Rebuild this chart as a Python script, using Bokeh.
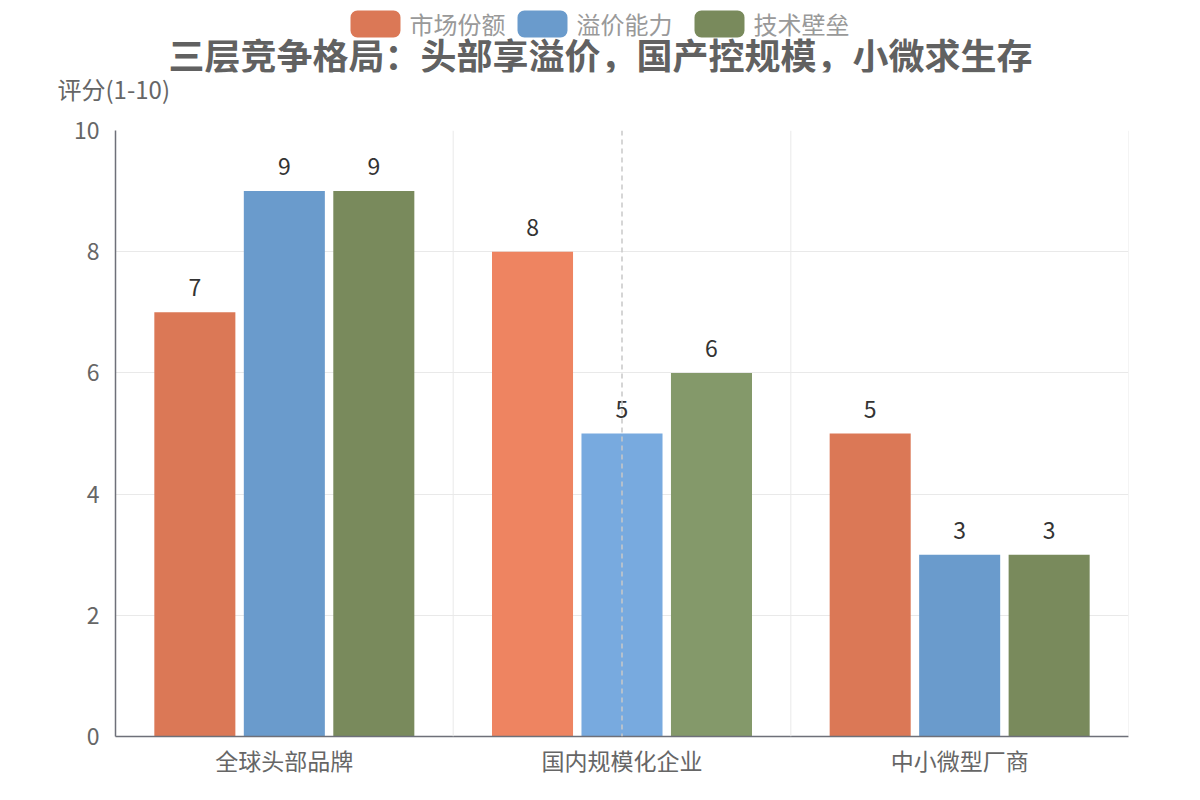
from bokeh.plotting import figure
from bokeh.layouts import column
from bokeh.models import (FactorRange, ColumnDataSource, LabelSet, Label, Span,
                          BoxAnnotation, FixedTicker, Range1d, Title)
from bokeh.core.properties import value
from bokeh.transform import dodge
from bokeh.embed import file_html
from bokeh.resources import INLINE

categories = ["全球头部品牌", "国内规模化企业", "中小微型厂商"]
series_names = ["市场份额", "溢价能力", "技术壁垒"]
market_share = [7, 8, 5]
premium = [9, 5, 3]
tech_barrier = [9, 6, 3]
y_ticks = [0, 2, 4, 6, 8, 10]
title_text = "三层竞争格局：头部享溢价，国产控规模，小微求生存"
y_name = "评分(1-10)"

colors = ["#DB7856", "#6A9BCC", "#798A5C"]
hover_colors = ["#EE8461", "#78AADF", "#84996A"]
highlight_index = 1

FONT = "Noto Sans CJK SC"
W = 1200
HEAD = 106          # header strip height
MAIN = 800 - HEAD   # main plot height
L, R = 115, 1128    # frame left/right
TOP_PAD = 130 - HEAD
BOT = 64
NAME_STANDOFF = -3
HF = 72.1           # header frame height (header minus its lower title panel)

# ---------- header (legend, title, axis name) ----------
head = figure(width=W, height=HEAD, output_backend="svg", toolbar_location=None,
              x_range=Range1d(L, R), y_range=Range1d(HF, 0),
              x_axis_type=None, y_axis_type=None,
              min_border_left=L, min_border_right=W - R, min_border_top=0, min_border_bottom=0)
head.outline_line_color = None
head.grid.visible = False
head.add_layout(Title(text=y_name, align="left", offset=-58, standoff=NAME_STANDOFF,
                      vertical_align="top", text_font=FONT, text_font_size="24px",
                      text_font_style="normal", text_color="#666666"), "below")

head.add_layout(Label(x=600, y=54, text=title_text, text_align="center",
                      text_baseline="middle", text_font=FONT, text_font_size="36px",
                      text_font_style="bold", text_color="#616161"))
sw_x = [350, 517, 694]
for k, name in enumerate(series_names):
    x0 = sw_x[k]
    head.add_layout(BoxAnnotation(left=x0, right=x0 + 50, top=10, bottom=37,
                                  fill_color=colors[k], fill_alpha=1, line_color=None,
                                  border_radius=7))
    head.add_layout(Label(x=x0 + 59, y=23, text=name, text_align="left",
                          text_baseline="middle", text_font=FONT, text_font_size="24px",
                          text_color="#999999"))

# ---------- main chart ----------
p = figure(x_range=FactorRange(*categories), y_range=(0, 10),
           width=W, height=MAIN, output_backend="svg", toolbar_location=None,
           min_border_left=L, min_border_right=W - R,
           min_border_top=TOP_PAD, min_border_bottom=BOT)
p.outline_line_color = None

series = [market_share, premium, tech_barrier]
offsets = [-0.265, 0.0, 0.265]
for k, vals in enumerate(series):
    fills = [hover_colors[k] if i == highlight_index else colors[k] for i in range(len(categories))]
    src = ColumnDataSource(dict(cat=categories, val=vals, fill=fills, txt=[str(v) for v in vals]))
    p.vbar(x=dodge("cat", offsets[k], range=p.x_range), top="val", width=0.24,
           source=src, fill_color="fill", line_color=None)
    p.add_layout(LabelSet(x=dodge("cat", offsets[k], range=p.x_range), y="val", text="txt",
                          source=src, text_align="center", text_baseline="alphabetic",
                          y_offset=16, text_font_size=value("23px"), text_color=value("#333333"),
                          text_font=value(FONT)))

p.yaxis.ticker = FixedTicker(ticks=y_ticks)
for ax in (p.xaxis[0], p.yaxis[0]):
    ax.axis_line_color = "#6E7079"
    ax.axis_line_width = 1.5
    ax.major_tick_line_color = None
    ax.minor_tick_line_color = None
    ax.major_label_text_font = FONT
    ax.major_label_text_font_size = "23px"
    ax.major_label_text_color = "#666666"
p.yaxis.major_label_standoff = 10
p.xaxis.major_label_standoff = 0

p.ygrid.grid_line_color = "#E9E9E9"
p.xgrid.grid_line_color = None
for loc in [1, 2, 3]:
    p.add_layout(Span(location=loc, dimension="height", line_color="#E9E9E9", line_width=1))

# axis pointer (hover state on the middle category)
p.add_layout(Span(location=highlight_index + 0.5, dimension="height",
                  line_color="#C8C8C8", line_width=1.5, line_dash="5 4"))

layout = column(head, p, spacing=0)
open("out.html", "w").write(file_html(layout, INLINE))
